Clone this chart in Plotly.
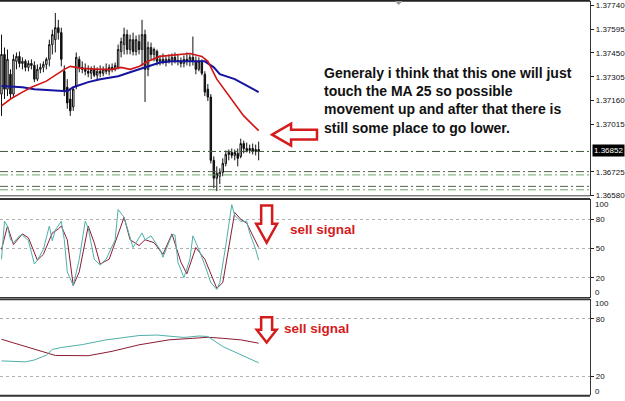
import plotly.graph_objects as go

W, H = 625, 401

# ---------------- data ----------------
bar_open = [137199,137441,137229,137320,137199,137399,137429,137386,137399,137362,137386,137374,137290,137350,137362,137380,137411,137501,137531,137604,137574,137338,137241,137169,137121,137248,137411,137362,137350,137338,137326,137350,137314,137338,137326,137350,137338,137362,137350,137362,137459,137501,137562,137471,137531,137459,137519,137471,137562,137350,137483,137441,137459,137399,137411,137392,137411,137399,137423,137405,137399,137386,137411,137399,137423,137399,137350,137392,137320,137229,137181,136795,136686,136698,136722,136776,136831,136843,136825,136837,136819,136897,136867,136855,136867,136849,136861]
bar_high = [137562,137483,137471,137350,137441,137453,137459,137423,137411,137405,137411,137399,137380,137386,137399,137423,137531,137592,137694,137652,137604,137374,137290,137229,137241,137453,137429,137399,137386,137374,137368,137374,137362,137374,137368,137386,137380,137386,137392,137501,137543,137604,137592,137562,137574,137556,137562,137652,137592,137519,137513,137483,137471,137435,137447,137429,137441,137447,137453,137441,137423,137435,137453,137441,137550,137429,137423,137411,137338,137260,137199,136819,136758,136746,136807,136855,136861,136867,136861,136867,136927,136915,136903,136891,136897,136891,136909]
bar_low = [137066,137169,137187,137169,137181,137350,137362,137350,137338,137338,137350,137272,137278,137326,137332,137350,137368,137441,137453,137531,137368,137187,137109,137066,137097,137229,137332,137326,137314,137302,137290,137302,137290,137302,137308,137320,137314,137332,137338,137350,137423,137441,137441,137441,137435,137435,137441,137368,137151,137308,137411,137399,137374,137374,137380,137368,137386,137374,137386,137374,137362,137362,137374,137368,137374,137320,137338,137314,137187,137157,136776,136625,136607,136650,136698,136758,136795,136807,136795,136758,136807,136837,136843,136837,136831,136825,136795]
bar_close = [137441,137229,137411,137199,137411,137429,137386,137399,137362,137386,137374,137290,137350,137362,137380,137411,137501,137562,137604,137574,137411,137217,137145,137097,137229,137423,137362,137350,137338,137326,137350,137314,137338,137326,137350,137338,137362,137350,137374,137471,137519,137562,137471,137531,137459,137531,137471,137562,137350,137483,137441,137471,137399,137411,137392,137411,137399,137423,137405,137399,137386,137411,137399,137423,137399,137350,137399,137326,137211,137181,136795,136686,136716,136722,136776,136831,136843,136825,136843,136807,136897,136867,136855,136867,136849,136861,136849]
price_scale = 1e-5

ma25_bar = [0,3,7,10,15,18,21,23,27,33,37,40,43,46,49,53,60,63,67,69,72,77,81,86]
ma25_val = [137127,137169,137211,137241,137278,137314,137350,137368,137356,137350,137350,137362,137350,137368,137399,137429,137441,137447,137429,137399,137290,137169,137066,136976]
ma50_bar = [0,7,11,17,22,24,29,33,39,44,49,53,57,62,68,71,73,78,86]
ma50_val = [137248,137241,137229,137223,137217,137241,137272,137290,137308,137338,137368,137392,137399,137399,137399,137362,137320,137290,137211]

levels = [1.36849, 1.36726, 1.36706, 1.36636, 1.36615]
level_colors = ['#3f5a3f', '#50604f', '#69a369', '#50604f', '#69a369']

price_ticks = [1.37740, 1.37595, 1.37450, 1.37305, 1.37160, 1.37015, 1.36725, 1.36580]
last_price = "1.36852"

stk_bar = [0,1,2,3,4,6,7,9,11,12,14,16,17,18,20,21,22,24,26,28,29,31,33,35,38,39,41,43,44,47,48,50,52,53,54,57,58,59,61,63,64,66,68,70,72,73,75,77,78,80,82,83,85,86]
stk_main = [39,78,73,59,56,63,64,58,34,38,49,73,58,69,78,59,26,12,39,78,71,39,33,39,59,90,82,63,51,66,59,63,54,49,41,64,64,36,20,39,63,49,33,15,8,15,53,95,84,78,78,66,49,38]
std_bar = [0,2,4,7,9,12,14,17,19,20,22,24,26,29,31,33,36,38,41,43,46,48,51,54,57,60,62,65,68,72,74,78,80,82,84,86]
std_sig = [49,73,54,65,61,38,44,66,70,73,59,12,26,73,56,34,39,56,82,59,53,59,56,44,65,36,24,51,39,9,15,87,80,76,63,51]

slow_main_bar = [0,8,11,15,17,20,27,35,40,46,52,56,61,66,69,74,80,86]
slow_main = [36,35,37,42,48,50,53,58,60,62.5,63,62,60.5,62,61.5,51,42.5,34]
slow_sig_bar = [0,8,13,18,29,37,46,56,64,69,74,80,86]
slow_sig = [58.6,51,46,41.7,41.4,46,52.8,58,59.6,60.7,59.6,58,54.5]

osc_ticks = [80, 50, 20]
osc2_ticks = [80, 20]

note_text = ("Generaly i think that this one will just<br>touch the MA 25 so possible<br>"
             "movement up and after that there is<br>still some place to go lower.")
sell_text = "sell signal"

# ---------------- helpers ----------------
def px(x):
    return x / W

def py(y):
    return 1 - y / H

def path(points):
    s = "M " + " L ".join(f"{px(x):.5f},{py(y):.5f}" for x, y in points) + " Z"
    return s

bars = list(range(len(bar_open)))
o = [v * price_scale for v in bar_open]
h = [v * price_scale for v in bar_high]
l = [v * price_scale for v in bar_low]
c = [v * price_scale for v in bar_close]

fig = go.Figure()
fig.add_trace(go.Candlestick(
    x=bars, open=o, high=h, low=l, close=c, xaxis='x', yaxis='y',
    increasing=dict(line=dict(color='#111111', width=1), fillcolor='#ffffff'),
    decreasing=dict(line=dict(color='#111111', width=1), fillcolor='#111111'),
    whiskerwidth=0, showlegend=False, hoverinfo='skip'))
fig.add_trace(go.Scatter(x=ma50_bar, y=[v * price_scale for v in ma50_val], mode='lines',
                         line=dict(color='#1414a0', width=2), xaxis='x', yaxis='y', showlegend=False))
fig.add_trace(go.Scatter(x=ma25_bar, y=[v * price_scale for v in ma25_val], mode='lines',
                         line=dict(color='#d01414', width=1.6), xaxis='x', yaxis='y', showlegend=False))

fig.add_trace(go.Scatter(x=std_bar, y=std_sig, mode='lines', line=dict(color='#8b1c32', width=1),
                         xaxis='x2', yaxis='y2', showlegend=False))
fig.add_trace(go.Scatter(x=stk_bar, y=stk_main, mode='lines', line=dict(color='#4fb0a8', width=1),
                         xaxis='x2', yaxis='y2', showlegend=False))

fig.add_trace(go.Scatter(x=slow_sig_bar, y=slow_sig, mode='lines', line=dict(color='#8b1c32', width=1),
                         xaxis='x3', yaxis='y3', showlegend=False))
fig.add_trace(go.Scatter(x=slow_main_bar, y=slow_main, mode='lines', line=dict(color='#4fb0a8', width=1),
                         xaxis='x3', yaxis='y3', showlegend=False))

xr = [-0.5, (592 - 1.5) / 3]
xdom = [0, 592 / W]
xcommon = dict(range=xr, domain=xdom, visible=False, fixedrange=True)
tickfont = dict(family='Liberation Sans', size=8, color='#111111')
ycommon = dict(side='right', ticks='outside', ticklen=3, tickcolor='#222', showline=True,
               linecolor='#333333', linewidth=1, tickfont=tickfont, zeroline=False, fixedrange=True)

fig.update_layout(
    width=W, height=H, margin=dict(l=0, r=0, t=0, b=0),
    paper_bgcolor='white', plot_bgcolor='white', showlegend=False,
    xaxis=dict(**xcommon, anchor='y', rangeslider=dict(visible=False)),
    xaxis2=dict(**xcommon, anchor='y2'),
    xaxis3=dict(**xcommon, anchor='y3'),
    yaxis=dict(**ycommon, anchor='x', domain=[1 - 198 / H, 1 - 1 / H], range=[1.365771, 1.377670],
               tickvals=price_ticks, ticktext=[f"{v:.5f}" for v in price_ticks], showgrid=False),
    yaxis2=dict(**ycommon, anchor='x2', domain=[1 - 301 / H, 1 - 201 / H], range=[-0.85, 100.85],
                tickvals=osc_ticks, showgrid=True, gridcolor='#b0b0b0', griddash='dot', gridwidth=1),
    yaxis3=dict(**ycommon, anchor='x3', domain=[1 - 399 / H, 1 - 302 / H], range=[0.35, 100.69],
                tickvals=osc2_ticks, showgrid=True, gridcolor='#b0b0b0', griddash='dot', gridwidth=1),
)

shapes = []
for lv, col in zip(levels, level_colors):
    shapes.append(dict(type='line', xref='paper', yref='y', x0=0, x1=592 / W, y0=lv, y1=lv,
                       line=dict(color=col, width=1, dash='8px,3px,2px,3px')))
# panel borders
for yb, wdt, col in [(0.8, 2, '#222222'), (197.8, 1, '#444444'), (201, 2, '#333333'),
                     (300.8, 1.5, '#333333'), (302.5, 1.5, '#333333'), (399.8, 2, '#333333')]:
    shapes.append(dict(type='line', xref='paper', yref='paper', x0=0, x1=592 / W,
                       y0=py(yb), y1=py(yb), line=dict(color=col, width=wdt)))
# red hollow arrows
red = '#d41c1c'
shapes.append(dict(type='path', xref='paper', yref='paper',
                   path=path([(273, 136), (292, 125), (292, 131), (318, 131), (318, 141), (292, 141), (292, 147)]),
                   line=dict(color=red, width=2.5), fillcolor='white'))
shapes.append(dict(type='path', xref='paper', yref='paper',
                   path=path([(262, 207.5), (273, 207.5), (273, 226), (278, 226), (267.5, 245), (257, 226), (262, 226)]),
                   line=dict(color=red, width=2.5), fillcolor='white'))
shapes.append(dict(type='path', xref='paper', yref='paper',
                   path=path([(262, 320.5), (273, 320.5), (273, 333), (277.5, 333), (267.5, 346), (257.5, 333), (262, 333)]),
                   line=dict(color=red, width=2.5), fillcolor='white'))
# small gray marker at top
shapes.append(dict(type='path', xref='paper', yref='paper',
                   path=path([(397, 1.5), (403, 1.5), (400, 4.5)]), line=dict(color='#999', width=1),
                   fillcolor='#999'))
fig.update_layout(shapes=shapes)

annotations = [
    dict(xref='paper', yref='paper', x=px(323), y=py(64), xanchor='left', yanchor='top', align='left',
         text=f"<b>{note_text}</b>", showarrow=False,
         font=dict(family='Liberation Sans', size=14, color='#111111')),
    dict(xref='paper', yref='paper', x=px(289), y=py(232), xanchor='left', yanchor='middle',
         text=f"<b>{sell_text}</b>", showarrow=False, font=dict(family='Liberation Sans', size=13.5, color=red)),
    dict(xref='paper', yref='paper', x=px(283), y=py(332), xanchor='left', yanchor='middle',
         text=f"<b>{sell_text}</b>", showarrow=False, font=dict(family='Liberation Sans', size=13.5, color=red)),
    dict(xref='paper', yref='paper', x=px(594), y=py(152.5), xanchor='left', yanchor='middle',
         text=last_price, showarrow=False, bgcolor='#000000', borderpad=1,
         font=dict(family='Liberation Sans', size=8, color='white')),
    dict(xref='paper', yref='paper', x=px(595), y=py(207), xanchor='left', yanchor='middle',
         text="100", showarrow=False, font=tickfont),
    dict(xref='paper', yref='paper', x=px(595), y=py(295), xanchor='left', yanchor='middle',
         text="0", showarrow=False, font=tickfont),
    dict(xref='paper', yref='paper', x=px(595), y=py(306.5), xanchor='left', yanchor='middle',
         text="100", showarrow=False, font=tickfont),
    dict(xref='paper', yref='paper', x=px(595), y=py(395), xanchor='left', yanchor='middle',
         text="0", showarrow=False, font=tickfont),
]
fig.update_layout(annotations=annotations)

fig.write_html("out.html")
